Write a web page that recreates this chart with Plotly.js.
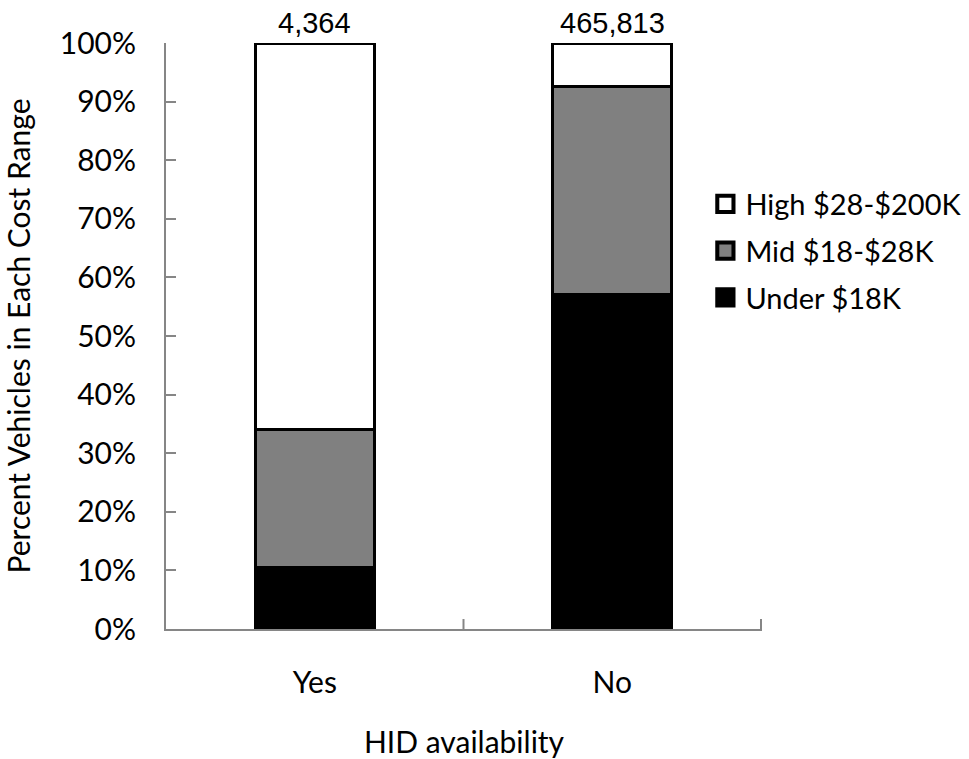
<!DOCTYPE html>
<html>
<head>
<meta charset="utf-8">
<script src="https://cdn.plot.ly/plotly-3.0.1.min.js"></script>
<style>
  html, body { margin: 0; padding: 0; background: #fff; }
  #chart { width: 969px; height: 759px; }
</style>
</head>
<body>
<div id="chart"></div>
<script>
// HID availability groups
const categories = ["Yes", "No"];
// share of vehicles (%) in each price band, per group
const underPct = [10.5, 57.0];
const midPct = [23.6, 35.5];
const highPct = [65.9, 7.5];
// vehicle counts shown above each bar
const totals = ["4,364", "465,813"];

const seriesNames = ["Under $18K", "Mid $18-$28K", "High $28-$200K"];
const seriesColors = ["#000000", "#808080", "#ffffff"];
const seriesValues = [underPct, midPct, highPct];

const textFont = { family: "Lato, 'Open Sans', sans-serif", size: 30, color: "#000" };

const traces = seriesValues.map((vals, i) => ({
  type: "bar",
  name: seriesNames[i],
  legendgroup: "g" + i,
  legendrank: 3 - i,
  x: categories,
  y: vals,
  marker: { color: seriesColors[i], line: { color: "#000", width: 3 } },
  hoverinfo: "skip"
}));

const annotations = categories.map((c, i) => ({
  x: c,
  y: 100,
  xref: "x",
  yref: "y",
  text: totals[i],
  showarrow: false,
  yanchor: "bottom",
  yshift: 2,
  font: { family: "'Liberation Sans', Arial, sans-serif", size: 29, color: "#000" }
}));

const layout = {
  width: 969,
  height: 759,
  margin: { l: 166, r: 207, t: 43, b: 130, autoexpand: false },
  paper_bgcolor: "#fff",
  plot_bgcolor: "#fff",
  barmode: "stack",
  bargap: 0.6,
  showlegend: true,
  legend: {
    x: 0.905,
    xanchor: "left",
    y: 0.645,
    yanchor: "middle",
    traceorder: "grouped",
    tracegroupgap: 6,
    font: { family: textFont.family, size: 29, color: "#000" },
    bgcolor: "rgba(0,0,0,0)"
  },
  xaxis: {
    type: "category",
    showline: true,
    linecolor: "#868686",
    linewidth: 2,
    ticks: "",
    showgrid: false,
    tickfont: textFont,
    ticklabelstandoff: 26,
    title: { text: "HID availability", font: textFont, standoff: 40 },
    zeroline: false
  },
  yaxis: {
    range: [0, 100],
    dtick: 10,
    ticksuffix: "%",
    showline: true,
    linecolor: "#868686",
    linewidth: 2,
    ticks: "inside",
    ticklen: 10,
    tickwidth: 2,
    tickcolor: "#868686",
    showgrid: false,
    zeroline: false,
    tickfont: textFont,
    ticklabelstandoff: 22,
    title: { text: "Percent Vehicles in Each Cost Range", font: textFont, standoff: 22 }
  },
  annotations: annotations,
  shapes: [0.5, 1.5].map(p => ({
    type: "line", xref: "x", yref: "paper",
    x0: p, x1: p, y0: 0, y1: 0.017,
    line: { color: "#868686", width: 2 }
  }))
};

Plotly.newPlot("chart", traces, layout, { displayModeBar: false, staticPlot: true }).then(() => {
  // enlarge legend swatches
  document.querySelectorAll(".legendpoints path").forEach(p => {
    const t = p.getAttribute("transform") || "";
    p.setAttribute("transform", t + " scale(1.35)");
  });
});
</script>
</body>
</html>
